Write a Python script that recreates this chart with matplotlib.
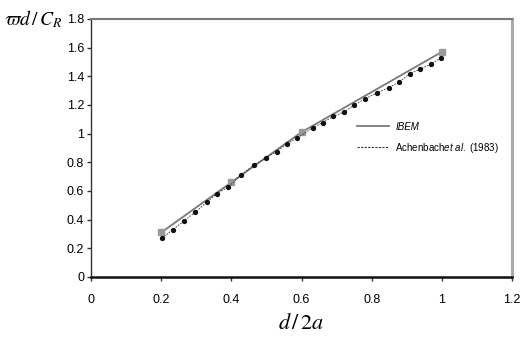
from matplotlib import pyplot as plt
from matplotlib.lines import Line2D
import matplotlib

matplotlib.rcParams['font.family'] = ['Liberation Sans', 'DejaVu Sans']
matplotlib.rcParams['mathtext.fontset'] = 'custom'
matplotlib.rcParams['mathtext.it'] = 'Liberation Sans:italic'
matplotlib.rcParams['mathtext.rm'] = 'Liberation Sans'

# IBEM results
ibem_x = [0.2, 0.4, 0.6, 0.7, 1.0]
ibem_y = [0.31, 0.66, 1.01, 1.15, 1.57]

# Achenbach et al. (1983)
ach_x = [0.202, 0.233, 0.265, 0.296, 0.33, 0.358, 0.39, 0.427, 0.464, 0.498,
         0.529, 0.56, 0.586, 0.632, 0.66, 0.691, 0.72, 0.751, 0.782, 0.816,
         0.848, 0.879, 0.908, 0.939, 0.97, 0.999]
ach_y = [0.27, 0.33, 0.39, 0.45, 0.52, 0.58, 0.625, 0.71, 0.78, 0.83,
         0.875, 0.93, 0.966, 1.04, 1.077, 1.12, 1.15, 1.20, 1.244, 1.285,
         1.32, 1.36, 1.417, 1.45, 1.487, 1.53]

xticks = [0, 0.2, 0.4, 0.6, 0.8, 1, 1.2]
yticks = [0, 0.2, 0.4, 0.6, 0.8, 1, 1.2, 1.4, 1.6, 1.8]


def plotDispersion():
    fig = plt.figure(figsize=(5.23, 3.44), dpi=100)
    ax = fig.add_axes([0.174, 0.195, 0.805, 0.75])

    ibem_col = '#7a7a7a'
    ach_col = '#111111'
    ax.plot(ibem_x, ibem_y, color=ibem_col, ls='-', lw=1.3, zorder=2)
    ax.plot([ibem_x[i] for i in (0, 1, 2, 4)], [ibem_y[i] for i in (0, 1, 2, 4)],
            ls='none', marker='s', markersize=4,
            markerfacecolor='#9a9a9a', markeredgecolor='#9a9a9a', zorder=2)
    ax.plot(ach_x, ach_y, color='#333333', ls=(0, (2, 1.5)), lw=0.6,
            marker='o', markersize=2.8, markerfacecolor=ach_col,
            markeredgecolor=ach_col, zorder=3)

    ax.set_xlim(0, 1.2)
    ax.set_ylim(0, 1.8)
    ax.set_xticks(xticks)
    ax.set_xticklabels(['0', '0.2', '0.4', '0.6', '0.8', '1', '1.2'])
    ax.set_yticks(yticks)
    ax.set_yticklabels(['0', '0.2', '0.4', '0.6', '0.8', '1', '1.2', '1.4', '1.6', '1.8'])
    ax.tick_params(labelsize=9, length=3, width=1, color='#333333')
    ax.tick_params(axis='x', pad=9)
    ax.tick_params(axis='y', pad=2)

    ax.spines['bottom'].set_linewidth(1.8)
    ax.spines['bottom'].set_color('#111111')
    ax.spines['left'].set_linewidth(1.0)
    ax.spines['left'].set_color('#333333')
    ax.spines['top'].set_linewidth(1.5)
    ax.spines['top'].set_color('#777777')
    ax.spines['right'].set_linewidth(2.2)
    ax.spines['right'].set_color('#aaaaaa')

    handles = [Line2D([], [], color=ibem_col, lw=1.3),
               Line2D([], [], color='#333333', lw=0.8, ls=(0, (2, 1.2)))]
    labels = ['IBEM', r'Achenbach$\it{et\ al.}$ (1983)']
    leg = ax.legend(handles, labels, loc='upper left',
                    bbox_to_anchor=(0.61, 0.635), frameon=False,
                    fontsize=7, handlelength=3.3, handletextpad=0.7,
                    labelspacing=0.9)
    leg.get_texts()[0].set_style('italic')

    fig.text(0.008, 0.945, r'$\varpi d\,/\,C_R$', fontsize=14,
             math_fontfamily='stix', ha='left', va='center')
    fig.text(0.575, 0.06, r'$d\,/\,2a$', fontsize=16,
             math_fontfamily='stix', ha='center', va='center')

    fig.savefig('out.png', dpi=100)


if __name__ == '__main__':
    plotDispersion()
